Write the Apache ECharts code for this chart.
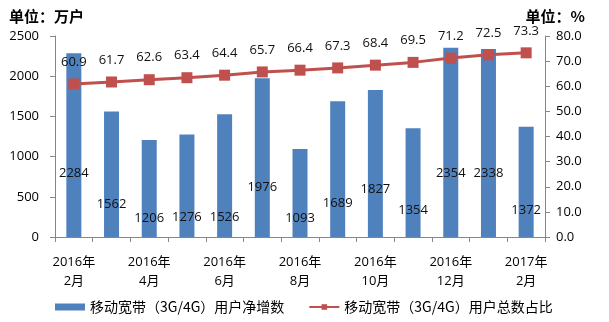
<!DOCTYPE html>
<html><head><meta charset="utf-8">
<script src="https://cdn.jsdelivr.net/npm/echarts@6/dist/echarts.min.js"></script>
<style>html,body{margin:0;padding:0;background:#fff}#c{width:609px;height:322px}</style>
</head><body><div id="c"></div>
<script>
const categories = ["2016年\n2月","2016年\n3月","2016年\n4月","2016年\n5月","2016年\n6月","2016年\n7月","2016年\n8月","2016年\n9月","2016年\n10月","2016年\n11月","2016年\n12月","2017年\n1月","2017年\n2月"];
const netAdds = [2284,1562,1206,1276,1526,1976,1093,1689,1827,1354,2354,2338,1372];
const sharePct = [60.9,61.7,62.6,63.4,64.4,65.7,66.4,67.3,68.4,69.5,71.2,72.5,73.3];
const leftTicks = {min:0,max:2500,interval:500};
const rightTicks = {min:0,max:80,interval:10};
const barName = "移动宽带（3G/4G）用户净增数";
const lineName = "移动宽带（3G/4G）用户总数占比";

// label lift (px above bar base) – styling only
const barLabelLift = [57,26,12,13,13,43,12,27,41,20,57,57,20];

const FONT = "'Open Sans','Noto Sans CJK SC',sans-serif";
const axisGray = '#868686';
const chart = echarts.init(document.getElementById('c'));
chart.setOption({
  animation:false,
  textStyle:{fontFamily:FONT},
  grid:{left:55,right:64,top:36,bottom:85,containLabel:false},
  graphic:[
    {type:'text',left:9,top:9,style:{text:'单位：万户',font:"bold 15px 'Noto Sans CJK SC'",fill:'#000'}},
    {type:'text',right:24,top:9,style:{text:'单位：%',font:"bold 15px 'Noto Sans CJK SC'",fill:'#000'}}
  ],
  legend:{left:50,top:295,itemGap:24,itemWidth:30,itemHeight:7,
    textStyle:{fontSize:14,color:'#000',fontFamily:"'Noto Sans CJK SC'"},
    data:[{name:barName,icon:'rect'},{name:lineName}]},
  xAxis:{type:'category',data:categories,boundaryGap:true,
    axisLine:{lineStyle:{color:axisGray}},
    axisTick:{show:true,length:5,alignWithLabel:false,interval:0,lineStyle:{color:axisGray}},
    axisLabel:{interval:1,color:'#000',fontSize:13,lineHeight:19,margin:16,fontFamily:FONT}},
  yAxis:[
    {type:'value',min:leftTicks.min,max:leftTicks.max,interval:leftTicks.interval,
     splitLine:{show:false},
     axisLine:{show:true,lineStyle:{color:axisGray}},
     axisTick:{show:true,length:5,lineStyle:{color:axisGray}},
     axisLabel:{color:'#000',fontSize:13,margin:16,formatter:v=>String(v)}},
    {type:'value',position:'right',min:rightTicks.min,max:rightTicks.max,interval:rightTicks.interval,
     splitLine:{show:false},
     axisLine:{show:true,lineStyle:{color:axisGray}},
     axisTick:{show:true,length:5,lineStyle:{color:axisGray}},
     axisLabel:{color:'#000',fontSize:13,margin:11,formatter:v=>v.toFixed(1)}}
  ],
  series:[
    {name:barName,type:'bar',yAxisIndex:0,barWidth:15,
     itemStyle:{color:'#4F81BD'},
     data:netAdds.map((v,i)=>({value:v,label:{show:true,position:'insideBottom',distance:barLabelLift[i]}})),
     label:{color:'#111',fontSize:13}},
    {name:lineName,type:'line',yAxisIndex:1,data:sharePct,
     symbol:'rect',symbolSize:11,
     lineStyle:{color:'#C0504D',width:3},
     itemStyle:{color:'#C0504D'},
     label:{show:true,position:'top',distance:10,color:'#111',fontSize:13,formatter:p=>p.value.toFixed(1)},
     z:3}
  ]
});
</script></body></html>
